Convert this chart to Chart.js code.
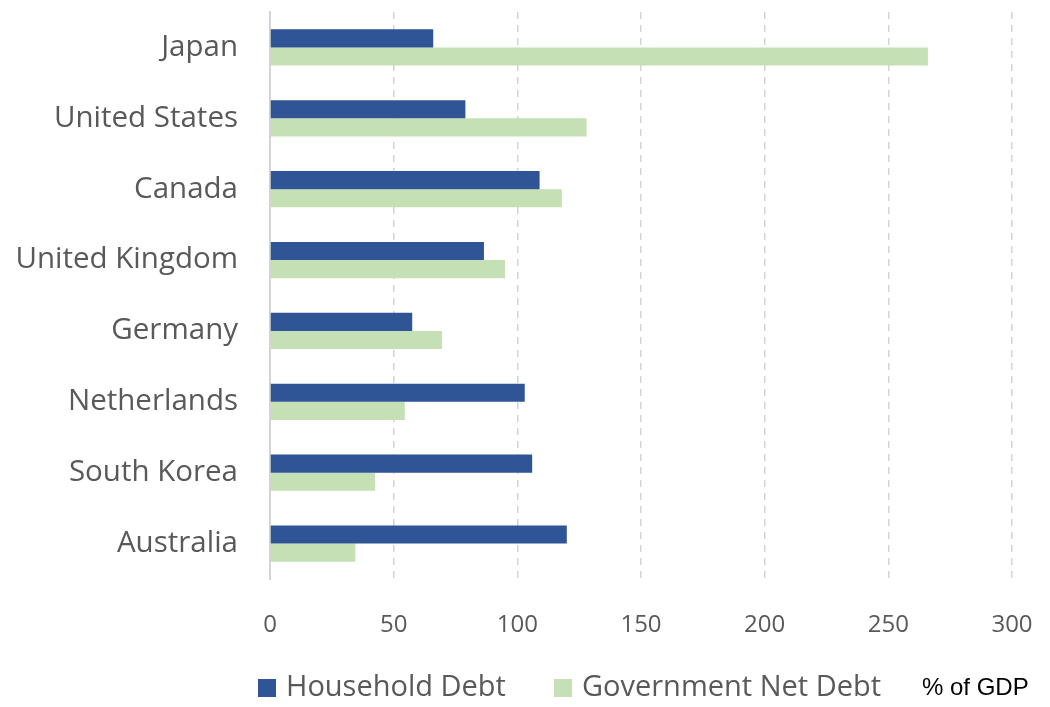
<!DOCTYPE html>
<html>
<head>
<meta charset="utf-8">
<script src="https://cdn.jsdelivr.net/npm/chart.js@4/dist/chart.umd.min.js"></script>
<style>
  html, body { margin: 0; padding: 0; background: #fff; }
  #wrap { width: 1050px; height: 707px; position: relative; }
</style>
</head>
<body>
<div id="wrap"><canvas id="debt-chart"></canvas></div>
<script>
// Household vs government debt, % of GDP
const countries = ['Japan', 'United States', 'Canada', 'United Kingdom', 'Germany', 'Netherlands', 'South Korea', 'Australia'];
const householdDebt = [66, 79, 109, 86.5, 57.5, 103, 106, 120];
const governmentNetDebt = [266, 128, 118, 95, 69.5, 54.5, 42.5, 34.5];
const xTicks = [0, 50, 100, 150, 200, 250, 300];
const unitNote = '% of GDP';

const FONT = '"Open Sans", "Noto Sans", sans-serif';
const GREY = '#595959';

// legend drawn under the x axis, left-aligned like the original
const bottomLegend = {
    id: 'bottomLegend',
    afterDraw(chart) {
        const ctx = chart.ctx;
        const y = 688;
        let x = 258;
        ctx.save();
        ctx.textBaseline = 'middle';
        chart.data.datasets.forEach(ds => {
            ctx.fillStyle = ds.backgroundColor;
            ctx.fillRect(x, y - 9, 18, 18);
            x += 28;
            ctx.font = '29px ' + FONT;
            ctx.fillStyle = GREY;
            ctx.fillText(ds.label, x, y);
            x += ctx.measureText(ds.label).width + 48;
        });
        ctx.font = '24px "Liberation Sans", sans-serif';
        ctx.fillStyle = '#000';
        ctx.fillText(unitNote, 922, y);
        ctx.restore();
    }
};

const ctx = document.getElementById('debt-chart').getContext('2d');
new Chart(ctx, {
    type: 'bar',
    data: {
        labels: countries,
        datasets: [{
            label: 'Household Debt',
            data: householdDebt,
            backgroundColor: '#2F5597'
        }, {
            label: 'Government Net Debt',
            data: governmentNetDebt,
            backgroundColor: '#C5E0B4'
        }]
    },
    options: {
        indexAxis: 'y',
        responsive: true,
        maintainAspectRatio: false,
        animation: false,
        categoryPercentage: 0.51,
        barPercentage: 1,
        layout: { padding: { top: 12, right: 38, bottom: 58, left: 0 } },
        plugins: {
            legend: { display: false },
            tooltip: { enabled: false }
        },
        scales: {
            x: {
                min: 0,
                max: 300,
                afterBuildTicks: s => { s.ticks = xTicks.map(v => ({ value: v })); },
                afterFit: s => { s.height = 70; s.paddingLeft = 0; s.paddingRight = 0; },
                border: { display: false, dash: [7, 6] },
                grid: {
                    drawTicks: false,
                    lineWidth: 1.5,
                    color: c => c.tick && c.tick.value === 0 ? 'rgba(0,0,0,0)' : '#d4d4d4'
                },
                ticks: {
                    padding: 32,
                    color: GREY,
                    font: { family: FONT, size: 24 }
                }
            },
            y: {
                afterFit: s => { s.width = 270; s.paddingTop = 0; s.paddingBottom = 0; },
                border: { display: true, color: '#d4d4d4', width: 2 },
                grid: { display: false, drawTicks: false },
                ticks: {
                    padding: 32,
                    color: GREY,
                    font: { family: FONT, size: 29.5 }
                }
            }
        }
    },
    plugins: [bottomLegend]
});
</script>
</body>
</html>
